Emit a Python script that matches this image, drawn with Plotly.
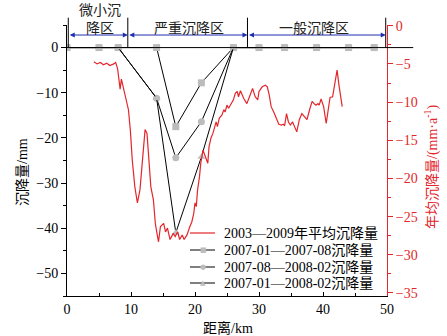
import plotly.graph_objects as go

# ---- data ----
dist_pts = [0, 5, 8, 14, 17, 21, 26, 30, 34, 39, 44, 48]
s1 = [0, 0, 0, 0, -17.5, -7.8, 0, 0, 0, 0, 0, 0]        # 2007-01—2007-08
s2 = [0, 0, 0, -11.2, -24.4, -16.4, 0, 0, 0, 0, 0, 0]   # 2007-08—2008-02
s3 = [0, 0, 0, -11.2, -41.0, -24.2, 0, 0, 0, 0, 0, 0]   # 2007-01—2008-02

red_x = [4.2, 4.7, 5.2, 5.7, 6.2, 6.7, 7.3, 7.6, 7.9, 8.3, 8.5, 8.9, 9.3, 9.6, 9.9,
         10.2, 10.6, 11.0, 11.4, 11.8, 12.2, 12.5, 12.8, 13.1, 13.5, 13.8, 14.1, 14.3,
         14.6, 15.1, 15.4, 15.7, 16.1, 16.6, 16.9, 17.3, 17.6, 18.0, 18.3, 18.75, 19.2,
         19.5, 19.8, 20.0, 20.2, 20.4, 20.7, 20.9, 21.25, 21.6, 22.0, 22.2, 22.5, 22.8,
         23.1, 23.3, 23.5, 23.8, 24.2, 24.5, 24.7, 25.0, 25.25, 25.6, 26.0, 26.3, 26.6,
         26.8, 27.1, 27.6, 28.1, 28.6, 29.0, 29.4, 29.8, 30.0, 30.5, 31.0, 31.3, 31.6,
         31.9, 32.3, 32.7, 33.1, 33.5, 33.8, 34.0, 34.3, 34.6, 34.9, 35.25, 35.6, 35.9,
         36.3, 36.7, 37.1, 37.5, 37.9, 38.3, 38.6, 38.9, 39.2, 39.4, 39.7, 40.1, 40.5,
         40.8, 41.1, 41.5, 41.9, 42.2, 42.5, 43.0]
red_y = [-4.7, -5.0, -4.8, -5.1, -4.9, -5.2, -5.0, -4.8, -5.6, -8.3, -7.0, -8.4, -9.9,
         -11.0, -13.7, -17.6, -21.1, -23.2, -21.5, -18.0, -13.6, -14.1, -18.0, -21.1,
         -22.8, -25.9, -27.4, -28.3, -26.3, -25.9, -27.0, -26.5, -28.0, -27.2, -27.6,
         -27.0, -28.0, -27.4, -28.0, -27.4, -26.3, -25.7, -24.6, -23.2, -23.7, -21.5,
         -19.8, -18.0, -16.3, -17.1, -18.0, -15.8, -14.7, -14.1, -13.0, -12.6, -13.2,
         -12.1, -11.7, -11.0, -11.3, -10.4, -10.8, -10.2, -9.7, -8.85, -8.6, -9.3, -8.5,
         -9.5, -10.2, -9.1, -8.2, -9.3, -9.7, -8.6, -8.0, -7.8, -8.0, -9.1, -10.6, -11.3,
         -12.1, -12.9, -13.0, -12.9, -13.1, -11.5, -12.6, -13.0, -12.6, -13.2, -13.9,
         -12.3, -11.5, -11.9, -12.3, -11.0, -9.9, -10.2, -10.4, -10.2, -10.4, -9.6, -10.6,
         -12.8, -11.0, -9.4, -9.3, -7.1, -5.8, -7.8, -10.6]

names = ["2003—2009年平均沉降量", "2007-01—2007-08沉降量",
         "2007-08—2008-02沉降量", "2007-01—2008-02沉降量"]
zone_bounds = [0.2, 9.5, 28.2, 49.8]
zone_labels = ["微小沉<br>降区", "严重沉降区", "一般沉降区"]
zone_centers = [5.2, 19.0, 38.6]

x_range = [0, 50]
y_range = [-55, 5]
y2_range = [-35.4, 0.1]

RED = "#e3262b"
GRAY = "#bcbcbc"
BLUE = "#1f2fb0"
FONT = "Times New Roman, Liberation Serif, Noto Sans CJK SC, serif"
SYMBOLS = ["square", "circle", "triangle-up"]

W, H = 447, 336
ML, MR, MT, MB = 67, 60, 25, 40
PW, PH = W - ML - MR, H - MT - MB

fig = go.Figure()
fig.add_trace(go.Scatter(x=red_x, y=red_y, mode="lines", name=names[0],
                         line=dict(color=RED, width=1.2), yaxis="y2", showlegend=False))
for ys, nm, sym in zip([s1, s2, s3], names[1:], SYMBOLS):
    fig.add_trace(go.Scatter(x=dist_pts, y=ys, mode="lines+markers", name=nm,
                             line=dict(color="black", width=1), showlegend=False,
                             marker=dict(color=GRAY, size=7, symbol=sym)))

def px(km):
    return (km - x_range[0]) / (x_range[1] - x_range[0])

def pxp(pix):   # horizontal pixel -> paper
    return (pix - ML) / PW

def pyp(pix):   # vertical pixel -> paper
    return (H - MB - pix) / PH

shapes = []
shapes.append(dict(type="line", xref="paper", yref="y", x0=0, x1=1.082, y0=0, y1=0,
                   line=dict(color="black", width=1)))
for b in zone_bounds:
    shapes.append(dict(type="line", xref="paper", yref="paper", x0=px(b), x1=px(b),
                       y0=0.917, y1=1.027, line=dict(color="black", width=1)))

annotations = []
for i in range(3):
    annotations.append(dict(x=zone_bounds[i + 1], y=0.963, xref="x", yref="paper",
                            ax=zone_bounds[i], ay=0, axref="x", ayref="pixel",
                            text="", showarrow=True, arrowhead=2, arrowside="end+start",
                            arrowsize=1, arrowwidth=1, arrowcolor=BLUE,
                            standoff=0, startstandoff=0))
    annotations.append(dict(x=zone_centers[i], y=0.951, xref="x", yref="paper",
                            text=zone_labels[i], showarrow=False,
                            xanchor="center", yanchor="bottom",
                            font=dict(size=14, color="#222", family=FONT)))

# manual legend (compact row spacing like the reference)
leg_rows = [233, 250, 267, 283]
for i, (nm, ry) in enumerate(zip(names, leg_rows)):
    col = RED if i == 0 else "black"
    shapes.append(dict(type="line", xref="paper", yref="paper",
                       x0=pxp(190), x1=pxp(215), y0=pyp(ry), y1=pyp(ry),
                       line=dict(color=col, width=1.2 if i == 0 else 1)))
    annotations.append(dict(x=pxp(222), y=pyp(ry), xref="paper", yref="paper",
                            text=nm, showarrow=False, xanchor="left", yanchor="middle",
                            font=dict(size=14, family=FONT, color="black")))
    if i > 0:
        annotations.append(dict(x=pxp(203), y=pyp(ry), xref="paper", yref="paper",
                                text=["■", "●", "▲"][i - 1], showarrow=False,
                                xanchor="center", yanchor="middle",
                                font=dict(size=7, color=GRAY, family="DejaVu Sans")))

# axis titles
annotations.append(dict(x=pxp(22), y=pyp(172), xref="paper", yref="paper",
                        text="沉降量/mm", textangle=-90, showarrow=False,
                        xanchor="center", yanchor="middle",
                        font=dict(size=14, family=FONT)))
annotations.append(dict(x=pxp(228), y=pyp(328), xref="paper", yref="paper",
                        text="距离/km", showarrow=False, xanchor="center", yanchor="middle",
                        font=dict(size=14, family=FONT)))
annotations.append(dict(x=pxp(431), y=pyp(167), xref="paper", yref="paper",
                        text="年均沉降量/(mm·a<sup>-1</sup>)", textangle=-90, showarrow=False,
                        xanchor="center", yanchor="middle",
                        font=dict(size=14, family=FONT, color=RED)))

fig.update_layout(
    width=W, height=H,
    margin=dict(l=ML, r=MR, t=MT, b=MB, autoexpand=False),
    paper_bgcolor="white", plot_bgcolor="white",
    font=dict(family=FONT, size=14, color="black"),
    showlegend=False,
    xaxis=dict(range=x_range, dtick=10, tick0=0, showline=True, linecolor="black",
               ticks="inside", ticklen=4, tickcolor="black", showgrid=False, zeroline=False,
               automargin=False,
               minor=dict(dtick=5, ticks="inside", ticklen=3, tickcolor="black")),
    yaxis=dict(range=y_range, dtick=10, tick0=0, showline=True, linecolor="black",
               ticks="outside", ticklen=5, tickcolor="black", showgrid=False, zeroline=False,
               automargin=False,
               minor=dict(dtick=5, ticks="outside", ticklen=3, tickcolor="black")),
    yaxis2=dict(range=y2_range, overlaying="y", side="right", dtick=5, tick0=0,
                showline=True, linecolor=RED, ticks="outside", ticklen=5, tickcolor=RED,
                tickfont=dict(color=RED), showgrid=False, zeroline=False, automargin=False,
                minor=dict(dtick=2.5, ticks="outside", ticklen=3, tickcolor=RED)),
    shapes=shapes, annotations=annotations,
)

fig.write_html("out.html", config={"displayModeBar": False},
               post_script="document.body.style.margin='0px';")
